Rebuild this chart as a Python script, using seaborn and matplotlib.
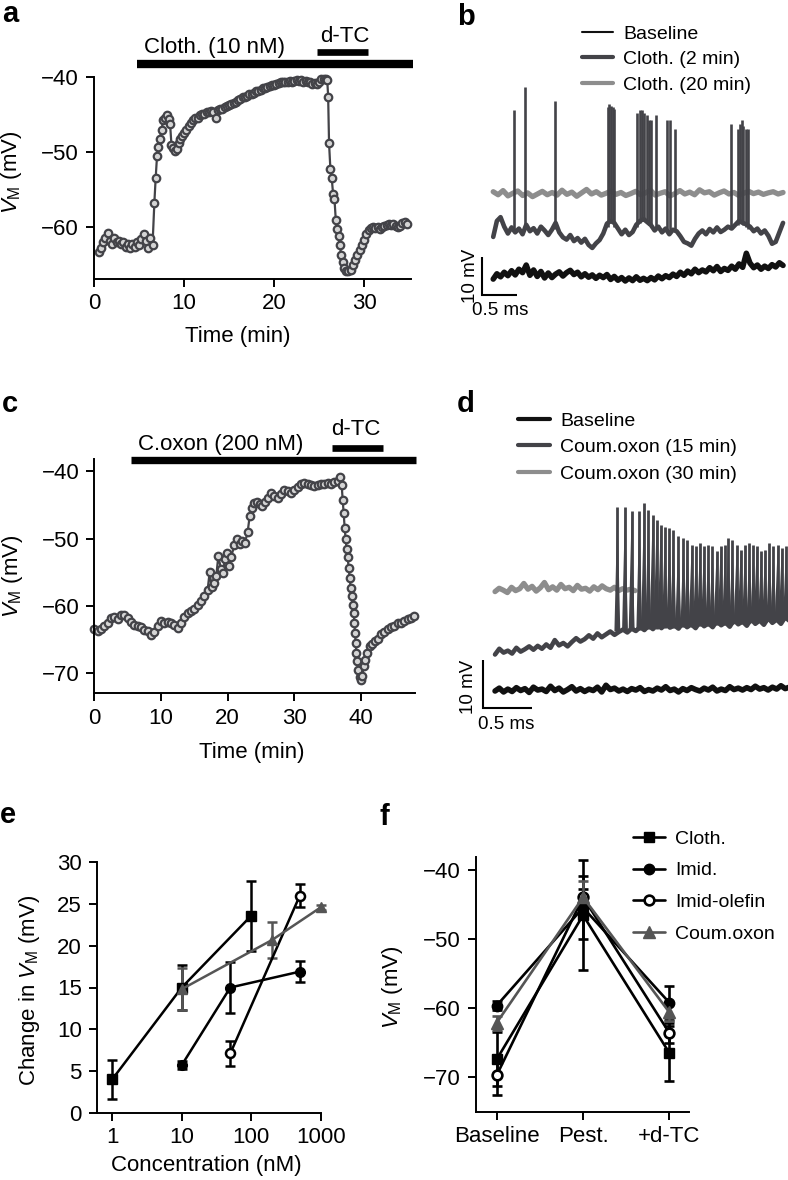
import numpy as np
import matplotlib
matplotlib.use("Agg")
import matplotlib.pyplot as plt
from matplotlib.lines import Line2D
from matplotlib.ticker import NullLocator
import seaborn as sns

# ---------------- panel a : Cloth. (10 nM) time course
time_a = [0.5, 0.75, 1.0, 1.25, 1.5, 1.75, 2.0, 2.25, 2.5, 2.75,
          3.0, 3.25, 3.5, 3.75, 4.0, 4.25, 4.5, 4.75, 5.0, 5.25,
          5.5, 5.75, 6.0, 6.25, 6.5, 6.7, 6.85, 7.0, 7.15, 7.3,
          7.5, 7.7, 7.9, 8.1, 8.3, 8.45, 8.6, 8.8, 9.0, 9.2,
          9.4, 9.6, 9.8, 10.0, 10.25, 10.5, 10.75, 11.0, 11.25, 11.5,
          11.75, 12.0, 12.25, 12.5, 12.75, 13.0, 13.25, 13.5, 13.75, 14.0,
          14.25, 14.5, 14.75, 15.0, 15.25, 15.5, 15.75, 16.0, 16.25, 16.5,
          16.75, 17.0, 17.25, 17.5, 17.75, 18.0, 18.25, 18.5, 18.75, 19.0,
          19.25, 19.5, 19.75, 20.0, 20.25, 20.5, 20.75, 21.0, 21.25, 21.5,
          21.75, 22.0, 22.25, 22.5, 22.75, 23.0, 23.25, 23.5, 23.75, 24.0,
          24.25, 24.5, 24.75, 25.0, 25.25, 25.5, 25.75, 25.9, 26.0, 26.1,
          26.25, 26.4, 26.55, 26.7, 26.85, 27.0, 27.15, 27.3, 27.45, 27.6,
          27.8, 28.0, 28.25, 28.5, 28.75, 29.0, 29.25, 29.5, 29.75, 30.0,
          30.25, 30.5, 30.75, 31.0, 31.25, 31.5, 31.75, 32.0, 32.25, 32.5,
          32.75, 33.0, 33.25, 33.5, 33.75, 34.0, 34.25, 34.5, 34.75]
vm_a = [-63.3, -62.8, -62.0, -61.5, -60.8, -61.8, -62.3, -61.5, -62.0, -61.8,
        -62.3, -62.0, -62.6, -62.3, -62.8, -62.2, -62.6, -62.0, -62.4, -61.6,
        -60.9, -61.8, -62.8, -61.5, -62.4, -56.8, -53.4, -50.5, -49.3, -48.3,
        -47.0, -45.7, -45.4, -45.1, -45.6, -46.3, -49.0, -49.5, -49.8, -49.6,
        -48.8, -48.3, -47.8, -47.4, -47.0, -46.5, -46.1, -45.7, -45.4, -45.5,
        -45.1, -44.9, -44.9, -44.7, -44.6, -44.5, -44.6, -45.5, -44.4, -44.3,
        -44.2, -44.0, -43.9, -43.7, -43.6, -43.4, -43.3, -43.0, -42.9, -42.7,
        -42.6, -42.5, -42.3, -42.2, -42.1, -41.9, -41.8, -41.7, -41.5, -41.5,
        -41.3, -41.2, -41.1, -41.0, -40.9, -40.8, -40.7, -40.6, -40.7, -40.6,
        -40.5, -40.6, -40.5, -40.4, -40.5, -40.4, -40.6, -40.5, -40.7, -40.6,
        -40.9, -40.8, -40.9, -40.6, -40.3, -40.2, -40.3, -40.4, -42.6, -48.8,
        -52.3, -53.5, -55.6, -56.2, -59.1, -60.2, -61.2, -62.4, -63.7, -64.6,
        -65.4, -65.8, -65.9, -65.7, -65.1, -64.4, -63.7, -63.0, -62.4, -61.7,
        -60.9, -60.4, -60.1, -60.0, -60.1, -60.0, -60.3, -60.0, -59.8, -59.7,
        -59.6, -59.7, -59.6, -59.8, -60.0, -59.8, -59.4, -59.3, -59.6]
cloth_period_a = [4.8, 35.4]
dtc_period_a = [24.8, 30.4]

# ---------------- panel c : C.oxon (200 nM) time course
time_c = [0.0, 0.5, 1.0, 1.5, 2.0, 2.5, 3.0, 3.5, 4.0, 4.5,
          5.0, 5.5, 6.0, 6.5, 7.0, 7.5, 8.0, 8.5, 9.0, 9.5,
          10.0, 10.5, 11.0, 11.5, 12.0, 12.5, 13.0, 13.5, 14.0, 14.5,
          15.0, 15.5, 16.0, 16.5, 17.0, 17.3, 17.6, 18.0, 18.3, 18.6,
          19.0, 19.3, 19.6, 19.9, 20.2, 20.5, 21.0, 21.4, 21.8, 22.2,
          22.6, 23.0, 23.3, 23.6, 24.0, 24.4, 24.8, 25.2, 25.6, 26.0,
          26.5, 27.0, 27.5, 28.0, 28.5, 29.0, 29.5, 30.0, 30.5, 31.0,
          31.5, 32.0, 32.5, 33.0, 33.5, 34.0, 34.5, 35.0, 35.5, 36.0,
          36.5, 36.9, 37.1, 37.25, 37.4, 37.55, 37.7, 37.85, 38.0, 38.15,
          38.3, 38.45, 38.6, 38.75, 38.9, 39.0, 39.1, 39.2, 39.3, 39.45,
          39.6, 39.8, 40.0, 40.2, 40.4, 40.6, 40.9, 41.3, 41.7, 42.1,
          42.5, 43.0, 43.5, 44.0, 44.5, 45.0, 45.5, 46.0, 46.5, 47.0,
          47.5, 48.0]
vm_c = [-63.5, -63.8, -63.4, -63.0, -62.6, -61.8, -61.6, -62.0, -61.4, -61.3,
        -61.8, -62.4, -62.9, -63.0, -63.2, -63.6, -63.8, -64.3, -63.9, -63.0,
        -62.2, -62.6, -62.4, -62.6, -62.8, -63.3, -62.6, -61.6, -61.0, -60.8,
        -60.4, -59.9, -59.3, -58.6, -57.6, -55.0, -57.2, -56.6, -55.5, -52.6,
        -54.5, -55.1, -53.0, -52.1, -54.1, -52.8, -51.0, -50.1, -50.8, -50.4,
        -50.6, -49.0, -46.7, -45.5, -44.7, -44.5, -44.9, -45.2, -44.6, -43.9,
        -43.2, -43.6, -44.0, -43.4, -42.8, -42.9, -43.2, -42.8, -42.3, -41.8,
        -41.7, -41.9, -42.0, -42.2, -42.0, -41.9, -41.8, -41.7, -41.9, -41.6,
        -41.4, -40.8, -42.0, -44.2, -46.2, -48.4, -50.1, -51.6, -52.8, -54.3,
        -55.8, -57.3, -58.5, -59.8, -61.0, -62.5, -64.0, -65.5, -67.0, -68.2,
        -69.5, -70.6, -71.0, -70.5, -69.0, -68.0, -67.0, -66.0, -65.6, -65.2,
        -64.9, -64.2, -63.9, -63.5, -63.2, -63.0, -62.6, -62.5, -62.2, -62.0,
        -61.8, -61.5]
coxon_period_c = [5.45, 48.2]
dtc_period_c = [35.7, 43.3]

# ---------------- panel b : example traces (ms, mV offsets)
b_span = [0.16, 4.3]
b_baseline = [4.2, 5.6, 4.8, 6.0, 5.1, 6.4, 5.3, 6.8, 5.9, 7.9,
              5.2, 6.6, 4.9, 6.2, 4.5, 5.8, 4.6, 5.5, 6.1, 5.0,
              5.9, 6.5, 5.4, 6.0, 4.8, 5.6, 4.7, 5.3, 4.4, 5.2,
              4.6, 5.4, 4.1, 4.9, 3.9, 4.6, 3.7, 4.5, 3.8, 4.8,
              3.9, 4.4, 3.8, 4.6, 4.0, 5.0, 4.3, 5.1, 4.6, 5.5,
              4.9, 6.0, 5.2, 6.3, 5.6, 6.8, 5.9, 6.6, 6.1, 7.2,
              6.4, 7.5, 6.2, 7.0, 6.5, 7.6, 6.8, 8.2, 7.3, 11.0,
              8.4, 7.2, 7.9, 6.8, 7.6, 7.0, 8.0, 7.4, 8.5, 7.8]
b_cloth2 = [15.3, 19.5, 20.5, 18.0, 16.2, 17.8, 16.5, 17.5, 16.0, 18.5,
            16.8, 17.6, 16.2, 18.0, 17.0, 15.8, 17.2, 19.0, 16.5, 15.2,
            14.6, 15.8, 14.2, 15.0, 13.8, 14.8, 13.2, 12.4, 13.6, 14.5,
            16.2, 18.8, 19.5, 19.0, 17.5, 16.0, 17.2, 15.8, 16.6, 18.5,
            19.5, 20.0, 19.2, 18.4, 17.0, 18.0, 16.5, 17.5, 16.0, 17.2,
            16.8, 15.5, 14.0, 13.6, 13.0, 14.8, 16.2, 17.0, 16.0, 17.4,
            16.5, 17.8, 16.6, 17.2, 18.0, 17.5, 18.5, 19.5, 19.0, 18.6,
            18.0, 16.8, 17.5, 16.2, 17.0, 15.6, 13.5, 14.0, 16.5, 19.0]
b_cloth20 = [27.2, 26.4, 27.5, 26.1, 26.8, 27.4, 26.2, 26.9, 25.9, 26.6,
             27.3, 26.4, 27.0, 26.3, 27.6, 26.5, 27.1, 26.0, 26.9, 27.8,
             26.6, 27.2, 26.3, 26.8, 27.4, 26.5, 27.0, 26.2, 26.7, 27.3,
             26.4, 26.9, 27.6, 26.3, 26.8, 27.2, 26.1, 26.7, 27.5, 26.6,
             27.1, 26.4, 27.7, 26.9, 27.2, 26.3, 26.9, 27.4, 26.6, 27.0,
             26.2, 26.8, 27.3, 26.7, 27.1, 26.5, 26.9, 27.2, 26.6, 27.0]
b_spike_t = [0.46, 0.62, 1.04, 1.795, 1.819, 1.843, 1.867, 1.886,
             2.22, 2.25, 2.28, 2.31, 2.35, 2.39, 2.42, 2.49, 2.64, 2.69, 2.75,
             3.55, 3.66, 3.69, 3.71, 3.733, 3.766, 3.795]
b_spike_peak = [48.7, 54.8, 51.1, 49.6, 50.3, 49.7, 49.6, 49.1,
                47.8, 48.7, 48.7, 47.8, 47.4, 46.2, 46.2, 47.4, 46.1, 46.2, 43.6,
                44.9, 43.6, 45.0, 46.2, 44.6, 43.6, 43.6]
b_spike_foot = [16.5, 17.5, 17.5, 18.0, 19.0, 19.5, 19.0, 18.0,
                18.0, 19.0, 19.5, 19.5, 19.0, 18.5, 18.0, 17.5, 17.0, 16.5, 16.5,
                17.5, 18.5, 19.0, 19.0, 18.5, 18.0, 17.5]

# ---------------- panel d : example traces (ms, mV offsets)
d_span = [0.126, 3.13]
d_span_30 = [0.126, 1.554]
d_baseline = [3.6, 4.2, 3.4, 4.0, 3.5, 4.3, 3.7, 4.1, 3.3, 4.4,
              3.8, 4.0, 3.5, 4.6, 3.7, 4.2, 3.4, 3.9, 4.5, 3.6,
              4.1, 3.5, 4.0, 3.7, 4.4, 3.4, 4.8, 3.9, 4.2, 3.6,
              4.0, 3.5, 4.1, 3.8, 4.3, 3.5, 3.9, 3.6, 4.2, 3.8,
              4.5, 3.7, 4.0, 3.4, 4.1, 3.7, 4.3, 3.9, 3.6, 4.2,
              3.8, 4.4, 3.6, 4.0, 3.7, 4.5, 3.9, 4.2, 3.8, 4.3,
              3.9, 4.6, 4.0, 4.3, 3.8, 4.4, 4.0, 4.7, 4.1, 4.4]
d_coum15 = [11.2, 12.4, 11.6, 12.0, 11.4, 12.6, 11.8, 12.3, 12.9, 12.2,
            13.0, 12.4, 13.3, 12.6, 14.2, 13.1, 13.6, 12.9, 13.8, 14.6,
            13.9, 14.4, 15.2, 14.5, 15.6, 14.8, 15.4, 16.0, 15.3, 15.9,
            16.4, 15.8, 16.6, 16.1, 16.9, 16.3, 17.2, 16.5, 17.4, 16.7,
            17.6, 16.8, 17.3, 16.6, 17.8, 16.9, 17.5, 16.7, 18.0, 17.1,
            17.7, 16.9, 18.2, 17.3, 17.9, 17.0, 18.4, 17.5, 18.1, 17.2,
            18.6, 17.6, 18.3, 17.4, 18.8, 17.8, 18.5, 17.6, 19.0, 18.2]
d_coum30 = [24.3, 25.0, 24.6, 24.1, 25.2, 24.5, 24.9, 26.0, 24.8, 25.4,
            24.4, 25.1, 26.2, 24.7, 25.3, 24.6, 25.8, 24.9, 25.2, 24.5,
            25.6, 24.8, 25.0, 24.4, 25.3, 24.7, 25.5, 24.9, 24.6, 25.2,
            24.5, 24.9, 24.6, 24.8, 24.5]
d_spike_t = [1.374, 1.452, 1.520, 1.598, 1.646, 1.690, 1.734, 1.775, 1.816, 1.860,
             1.905, 1.945, 1.996, 2.048, 2.088, 2.132, 2.177, 2.217, 2.258, 2.302,
             2.343, 2.387, 2.428, 2.473, 2.506, 2.547, 2.592, 2.632, 2.677, 2.721,
             2.762, 2.796, 2.840, 2.881, 2.925, 2.966, 3.010, 3.051, 3.095]
d_spike_peak = [41.9, 41.9, 41.0, 41.0, 42.7, 41.3, 40.3, 39.2, 38.2, 37.8,
                37.5, 37.1, 35.8, 35.4, 35.1, 34.0, 33.7, 34.4, 33.7, 34.0,
                33.7, 32.7, 33.7, 34.0, 35.4, 35.1, 34.0, 33.0, 34.0, 34.4,
                34.0, 33.7, 32.7, 33.0, 34.4, 33.7, 34.0, 33.4, 33.7]
d_spike_foot = [16.0, 16.2, 16.4, 16.3, 16.6, 16.5, 16.8, 16.6, 16.9, 16.7,
                17.0, 16.8, 17.1, 16.9, 17.2, 17.0, 17.3, 17.1, 17.4, 17.2,
                17.5, 17.3, 17.6, 17.4, 17.7, 17.5, 17.8, 17.6, 17.9, 17.7,
                18.0, 17.8, 18.1, 17.9, 18.2, 18.0, 18.3, 18.1, 18.4]

# ---------------- panel e : concentration dependence
conc_cloth = [1, 10, 100]
dv_cloth = [4.0, 15.0, 23.6]
err_cloth = [2.3, 2.7, 4.2]
conc_imid = [10, 50, 500]
dv_imid = [5.7, 15.0, 16.9]
err_imid = [0.5, 3.1, 1.3]
conc_olefin = [50, 500]
dv_olefin = [7.1, 26.0]
err_olefin = [1.5, 1.4]
conc_coum = [10, 200, 1000]
dv_coum = [14.8, 20.7, 24.6]
err_coum = [2.5, 2.2, 0.3]

# ---------------- panel f : VM per condition
conditions = ["Baseline", "Pest.", "+d-TC"]
vm_cloth = [-67.5, -46.6, -66.6]
sem_cloth = [3.9, 8.0, 4.0]
vm_imid = [-59.7, -45.5, -59.3]
sem_imid = [0.7, 4.6, 2.5]
vm_olefin = [-69.8, -44.0, -63.7]
sem_olefin = [2.9, 1.2, 1.5]
vm_coum = [-62.2, -44.0, -60.7]
sem_coum = [1.0, 2.3, 1.3]

# ---------------- style
sns.set_theme(style="ticks")
plt.rcParams.update({
    "font.family": ["Liberation Sans", "DejaVu Sans"],
    "mathtext.fontset": "custom",
    "mathtext.rm": "Liberation Sans",
    "mathtext.it": "Liberation Sans:italic",
    "axes.edgecolor": "black", "axes.labelcolor": "black", "text.color": "black",
    "xtick.color": "black", "ytick.color": "black",
    "axes.linewidth": 1.4,
    "xtick.major.width": 1.4, "ytick.major.width": 1.4,
    "xtick.major.size": 5.8, "ytick.major.size": 5.8,
    "xtick.major.pad": 4.5, "ytick.major.pad": 5,
    "xtick.labelsize": 16, "ytick.labelsize": 16,
    "axes.labelsize": 16,
})

DARK = "#434348"
LIGHT = "#8d8d8d"
BLACK = "#111111"
GREY = "#555555"
VM_LABEL = r"$V_{\mathrm{M}}$ (mV)"
NOTE_FS = 16
LEG_FS = 14
BAR_FS = 13.5

FW, FH = 788, 1180
fig = plt.figure(figsize=(FW / 100, FH / 100), dpi=100)


def add_ax(left, top, right, bottom):
    return fig.add_axes([left / FW, 1 - bottom / FH, (right - left) / FW, (bottom - top) / FH])


def time_course(ax, t, v):
    sns.lineplot(x=t, y=v, ax=ax, sort=False, estimator=None, color=DARK, lw=1.6,
                 marker="o", markersize=5.4, markeredgewidth=1.6,
                 markerfacecolor="#d4d4d4", markeredgecolor=DARK, clip_on=False)
    sns.despine(ax=ax)
    ax.set_ylabel(VM_LABEL)
    ax.set_xlabel("Time (min)")


def drug_bar(ax, period, yfrac, lw):
    ax.plot(period, [yfrac, yfrac], color="black", lw=lw, solid_capstyle="butt",
            transform=ax.get_xaxis_transform(), clip_on=False)


# ---- a
ax_a = add_ax(94, 77, 411, 279)
time_course(ax_a, time_a, vm_a)
ax_a.set_xlim(0, 35.2)
ax_a.set_ylim(-66.9, -40)
ax_a.set_xticks([0, 10, 20, 30])
ax_a.set_yticks([-40, -50, -60])
ax_a.yaxis.set_label_coords(-0.222, 0.53)
ax_a.xaxis.set_label_coords(0.455, -0.235)
drug_bar(ax_a, cloth_period_a, 1.064, 6.0)
drug_bar(ax_a, dtc_period_a, 1.126, 4.8)
ax_a.text(13.4, 1.117, "Cloth. (10 nM)", transform=ax_a.get_xaxis_transform(),
          ha="center", va="baseline", fontsize=NOTE_FS)
ax_a.text(27.9, 1.175, "d-TC", transform=ax_a.get_xaxis_transform(),
          ha="center", va="baseline", fontsize=NOTE_FS)

# ---- c
ax_c = add_ax(94.3, 459.3, 415, 693.3)
time_course(ax_c, time_c, vm_c)
ax_c.set_xlim(0, 48.1)
ax_c.set_ylim(-73.0, -38.2)
ax_c.set_xticks([0, 10, 20, 30, 40])
ax_c.set_yticks([-40, -50, -60, -70])
ax_c.yaxis.set_label_coords(-0.215, 0.5)
ax_c.xaxis.set_label_coords(0.49, -0.207)
drug_bar(ax_c, coxon_period_c, 0.998, 5.3)
drug_bar(ax_c, dtc_period_c, 1.047, 4.8)
ax_c.text(19.0, 1.040, "C.oxon (200 nM)", transform=ax_c.get_xaxis_transform(),
          ha="center", va="baseline", fontsize=NOTE_FS)
ax_c.text(39.2, 1.104, "d-TC", transform=ax_c.get_xaxis_transform(),
          ha="center", va="baseline", fontsize=NOTE_FS)


# ---- traces
def traces(ax, span_base, base, span_mid, mid, span_top, top, sp_t, sp_foot, sp_peak,
           lw_spike, spike_halfwidth=0.0):
    sns.lineplot(x=np.linspace(*span_base, len(base)), y=base, ax=ax, sort=False,
                 estimator=None, color=BLACK, lw=4.0, zorder=2)
    sns.lineplot(x=np.linspace(*span_top, len(top)), y=top, ax=ax, sort=False,
                 estimator=None, color=LIGHT, lw=3.8, zorder=2)
    sns.lineplot(x=np.linspace(*span_mid, len(mid)), y=mid, ax=ax, sort=False,
                 estimator=None, color=DARK, lw=3.3, zorder=3)
    ax.vlines(sp_t, sp_foot, sp_peak, color=DARK, lw=lw_spike, zorder=3)
    if spike_halfwidth:
        for t, f, p in zip(sp_t, sp_foot, sp_peak):
            ax.fill([t - spike_halfwidth, t, t + spike_halfwidth], [f, p, f],
                    color=DARK, lw=0, zorder=3)
    # scale bar : 0.5 ms / 10 mV
    ax.plot([0, 0, 0.5], [10, 0, 0], color="black", lw=1.5, solid_capstyle="butt",
            solid_joinstyle="miter", clip_on=False)
    ax.set_axis_off()


ax_b = add_ax(462, 20, 788, 330)
traces(ax_b, b_span, b_baseline, b_span, b_cloth2, b_span, b_cloth20,
       b_spike_t, b_spike_foot, b_spike_peak, 1.9)
ax_b.set_xlim(-0.286, 4.371)
ax_b.set_ylim(-9.2, 72.4)
ax_b.text(-0.17, 5.0, "10 mV", rotation=90, ha="center", va="center", fontsize=BAR_FS)
ax_b.text(0.26, -1.8, "0.5 ms", ha="center", va="top", fontsize=BAR_FS)
ax_b.legend(handles=[Line2D([], [], color=BLACK, lw=1.5),
                     Line2D([], [], color=DARK, lw=3.0),
                     Line2D([], [], color=LIGHT, lw=3.0)],
            labels=["Baseline", "Cloth. (2 min)", "Cloth. (20 min)"],
            loc="upper left", bbox_to_anchor=(582 / FW, 1 - 25 / FH),
            bbox_transform=fig.transFigure, frameon=False, fontsize=LEG_FS,
            borderpad=0, borderaxespad=0, handlelength=1.6, handletextpad=0.52,
            labelspacing=0.41)

ax_d = add_ax(462, 400, 788, 740)
traces(ax_d, d_span, d_baseline, d_span, d_coum15, d_span_30, d_coum30,
       d_spike_t, d_spike_foot, d_spike_peak, 2.0, spike_halfwidth=0.03)
ax_d.set_xlim(-0.211, 3.115)
ax_d.set_ylim(-6.6, 64.2)
ax_d.text(-0.14, 4.5, "10 mV", rotation=90, ha="center", va="center", fontsize=BAR_FS)
ax_d.text(0.236, -1.6, "0.5 ms", ha="center", va="top", fontsize=BAR_FS)
ax_d.legend(handles=[Line2D([], [], color=BLACK, lw=3.0),
                     Line2D([], [], color=DARK, lw=3.0),
                     Line2D([], [], color=LIGHT, lw=3.0)],
            labels=["Baseline", "Coum.oxon (15 min)", "Coum.oxon (30 min)"],
            loc="upper left", bbox_to_anchor=(518 / FW, 1 - 412 / FH),
            bbox_transform=fig.transFigure, frameon=False, fontsize=LEG_FS,
            borderpad=0, borderaxespad=0, handlelength=1.65, handletextpad=0.52,
            labelspacing=0.46)

# ---- e
ax_e = add_ax(96.7, 862.3, 320.7, 1112.7)
ax_e.set_xscale("log")
eb = dict(lw=1.8, elinewidth=1.8, capsize=3.5, capthick=1.8, clip_on=False)
ax_e.errorbar(conc_cloth, dv_cloth, yerr=err_cloth, color="black", marker="s", ms=7, **eb)
ax_e.errorbar(conc_imid, dv_imid, yerr=err_imid, color="black", marker="o", ms=7, **eb)
ax_e.errorbar(conc_olefin, dv_olefin, yerr=err_olefin, color="black", marker="o", ms=6.5,
              mfc="white", mew=1.8, **eb)
ax_e.errorbar(conc_coum, dv_coum, yerr=err_coum, color=GREY, marker="^", ms=7.5, **eb)
ax_e.set_xlim(0.597, 1000)
ax_e.set_ylim(0, 30)
ax_e.set_xticks([1, 10, 100, 1000], labels=["1", "10", "100", "1000"])
ax_e.xaxis.set_minor_locator(NullLocator())
ax_e.set_yticks([0, 5, 10, 15, 20, 25, 30])
sns.despine(ax=ax_e)
ax_e.set_ylabel(r"Change in $V_{\mathrm{M}}$ (mV)")
ax_e.set_xlabel("Concentration (nM)")
ax_e.yaxis.set_label_coords(-0.244, 0.49)
ax_e.xaxis.set_label_coords(0.49, -0.169)

# ---- f
ax_f = add_ax(476, 857.3, 689.3, 1111.7)
pos = np.arange(len(conditions))
eb_f = dict(lw=1.9, elinewidth=1.9, capsize=3.5, capthick=1.9, clip_on=False)
ax_f.errorbar(pos, vm_cloth, yerr=sem_cloth, color="black", marker="s", ms=7.5, **eb_f)
ax_f.errorbar(pos, vm_imid, yerr=sem_imid, color="black", marker="o", ms=7.5, **eb_f)
ax_f.errorbar(pos, vm_olefin, yerr=sem_olefin, color="black", marker="o", ms=7,
              mfc="white", mew=1.9, **eb_f)
ax_f.errorbar(pos, vm_coum, yerr=sem_coum, color=GREY, marker="^", ms=8, **eb_f)
ax_f.set_xlim(-0.24, 2.23)
ax_f.set_ylim(-75.1, -38.2)
ax_f.set_xticks(pos, labels=conditions)
ax_f.set_yticks([-40, -50, -60, -70])
sns.despine(ax=ax_f)
ax_f.set_ylabel(VM_LABEL)
ax_f.yaxis.set_label_coords(-0.335, 0.49)
ax_f.legend(handles=[Line2D([], [], color="black", lw=1.9, marker="s", ms=7.5),
                     Line2D([], [], color="black", lw=1.9, marker="o", ms=7.5),
                     Line2D([], [], color="black", lw=1.9, marker="o", ms=7,
                            mfc="white", mew=1.9),
                     Line2D([], [], color=GREY, lw=1.9, marker="^", ms=8)],
            labels=["Cloth.", "Imid.", "Imid-olefin", "Coum.oxon"],
            loc="upper left", bbox_to_anchor=(633 / FW, 1 - 830 / FH),
            bbox_transform=fig.transFigure, frameon=False, fontsize=LEG_FS,
            borderpad=0, borderaxespad=0, handlelength=1.65, handletextpad=0.52,
            labelspacing=0.73)

# ---- panel letters
for letter, x, y in [("a", 2, 21.7), ("b", 456.7, 25), ("c", 1.7, 411.7),
                     ("d", 456.7, 411.7), ("e", 0, 823), ("f", 380, 825)]:
    fig.text(x / FW, 1 - y / FH, letter, ha="left", va="baseline",
             fontsize=21, fontweight="bold")

fig.savefig("out.png", dpi=100)
